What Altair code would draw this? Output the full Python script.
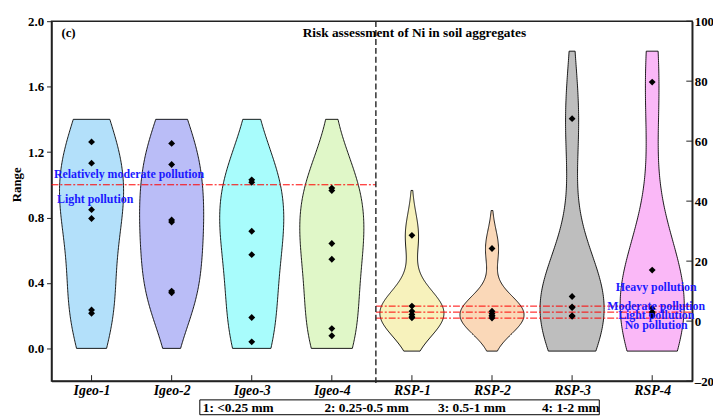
import json
import altair as alt
import numpy as np
import pandas as pd

# ---------------- data ----------------
categories = ["Igeo-1", "Igeo-2", "Igeo-3", "Igeo-4", "RSP-1", "RSP-2", "RSP-3", "RSP-4"]

igeo_1 = [1.262, 1.132, 0.848, 0.794, 0.235, 0.215]
igeo_2 = [1.253, 1.124, 0.785, 0.772, 0.350, 0.340]
igeo_3 = [1.030, 1.015, 0.716, 0.573, 0.189, 0.040]
igeo_4 = [0.980, 0.965, 0.641, 0.545, 0.121, 0.077]

rsp_1 = [28.6, 5.0, 3.3, 2.2, 1.4, 1.1]
rsp_2 = [24.2, 3.3, 2.5, 1.9, 1.7, 1.0]
rsp_3 = [67.5, 8.2, 4.7, 4.5, 1.8, 1.6]
rsp_4 = [79.7, 17.0, 4.2, 3.0, 2.4, 1.8]

igeo_threshold = [1.0]
rsp_thresholds = [1, 3, 5]

left_ticks = [0.0, 0.4, 0.8, 1.2, 1.6, 2.0]
right_ticks = [-20, 0, 20, 40, 60, 80, 100]

igeo_labels = ["Relatively moderate pollution", "Light pollution"]
igeo_label_y = [1.067, 0.914]
igeo_label_x = [0.03, 0.07]
rsp_labels = ["Heavy pollution", "Moderate pollution", "Light pollution", "No pollution"]
rsp_label_y = [11.3, 4.9, 2.0, -1.2]
size_classes = ["1: <0.25 mm", "2: 0.25-0.5 mm", "3: 0.5-1 mm", "4: 1-2 mm"]

title_text = "Risk assessment of Ni in soil aggregates"
panel_text = "(c)"

colors = ["#b3e0fa", "#babdf7", "#a8fcfc", "#e0f7c8",
          "#f7f2bc", "#fad8b8", "#bebebe", "#fab8f7"]

FONT = "Liberation Serif"
W, H = 648, 364
divider_x = 4.05

# ---------------- violin densities (Scott KDE, cut=2, clipped) ----------------
def violin(name, vals, lo, hi, steps=160):
    v = np.asarray(vals, float)
    h = v.std(ddof=1) * len(v) ** (-0.2)
    a = max(v.min() - 2 * h, lo)
    b = min(v.max() + 2 * h, hi)
    grid = np.linspace(a, b, steps)
    d = np.exp(-0.5 * ((grid[:, None] - v[None, :]) / h) ** 2).sum(axis=1)
    w = 0.4 * d / d.max()
    c = categories.index(name) + 0.5
    return pd.DataFrame({"cat": name, "y": grid, "xa": c - w, "xb": c + w})

igeo_sets = {"Igeo-1": igeo_1, "Igeo-2": igeo_2, "Igeo-3": igeo_3, "Igeo-4": igeo_4}
rsp_sets = {"RSP-1": rsp_1, "RSP-2": rsp_2, "RSP-3": rsp_3, "RSP-4": rsp_4}

igeo_vio = pd.concat([violin(k, v, 0.0, 1.4) for k, v in igeo_sets.items()], ignore_index=True)
rsp_vio = pd.concat([violin(k, v, -10.0, 90.0) for k, v in rsp_sets.items()], ignore_index=True)

def points(sets):
    rows = []
    for k, vals in sets.items():
        for val in vals:
            rows.append({"cat": k, "xc": categories.index(k) + 0.5, "value": val})
    return pd.DataFrame(rows)

igeo_pts = points(igeo_sets)
rsp_pts = points(rsp_sets)
centers = pd.DataFrame({"cat": categories, "xc": [i + 0.5 for i in range(len(categories))]})

# ---------------- scales / axes ----------------
x_scale = alt.Scale(domain=[0, 8], nice=False, zero=False)
x_axis = alt.Axis(values=[i + 0.5 for i in range(8)],
                  labelExpr=json.dumps(categories) + "[floor(datum.value)]",
                  tickSize=0, grid=False, title=None, labelFontSize=14,
                  labelFontStyle="italic", labelFontWeight="bold", labelPadding=3)
yl_scale = alt.Scale(domain=[-0.2, 2.0], nice=False, zero=False)
yl_axis = alt.Axis(values=left_ticks, format=".1f", title="Range", tickSize=5,
                   labelPadding=3, titleFontSize=13, titleFontWeight="bold",
                   titlePadding=4, titleY=165, grid=False)
yr_scale = alt.Scale(domain=[-20, 100], nice=False, zero=False)
yr_axis = alt.Axis(orient="right", values=right_ticks, tickSize=0,
                   labelExpr="datum.value < 0 ? '\u2013' + abs(datum.value) : '' + datum.value",
                   labelPadding=2, title=None, grid=False)
color_scale = alt.Scale(domain=categories, range=colors)

def X(field):
    return alt.X(field, scale=x_scale, axis=x_axis)

# ---------------- left (Igeo) layers ----------------
l_vio = alt.Chart(igeo_vio).mark_area(orient="horizontal", stroke="black",
                                      strokeWidth=0.9, opacity=1).encode(
    y=alt.Y("y:Q", scale=yl_scale, axis=yl_axis),
    x=alt.X("xa:Q", scale=x_scale, axis=x_axis, stack=None),
    x2="xb:Q",
    fill=alt.Fill("cat:N", scale=color_scale, legend=None),
)
l_rule = alt.Chart(pd.DataFrame({"t": igeo_threshold})).mark_rule(
    color="red", strokeWidth=1, strokeDash=[7, 2, 2, 2]).encode(
    y=alt.Y("t:Q", scale=yl_scale, axis=yl_axis),
    x=alt.X(datum=0, scale=x_scale, axis=x_axis),
    x2=alt.datum(divider_x),
)
l_pts = alt.Chart(igeo_pts).mark_point(shape="diamond", filled=True, size=48,
                                       color="black", opacity=1).encode(
    x=X("xc:Q"), y=alt.Y("value:Q", scale=yl_scale, axis=yl_axis))
l_text = alt.Chart(pd.DataFrame({"label": igeo_labels, "y": igeo_label_y,
                                 "x": igeo_label_x})).mark_text(
    align="left", baseline="middle", font=FONT, fontSize=12, fontWeight="bold",
    color="#1a1aff").encode(
    x=alt.X("x:Q", scale=x_scale, axis=x_axis),
    y=alt.Y("y:Q", scale=yl_scale, axis=yl_axis), text="label:N")
left = alt.layer(l_vio, l_rule, l_pts, l_text)

# ---------------- right (RSP) layers ----------------
r_vio = alt.Chart(rsp_vio).mark_area(orient="horizontal", stroke="black",
                                     strokeWidth=0.9, opacity=1).encode(
    y=alt.Y("y:Q", scale=yr_scale, axis=yr_axis),
    x=alt.X("xa:Q", scale=x_scale, axis=x_axis, stack=None),
    x2="xb:Q",
    fill=alt.Fill("cat:N", scale=color_scale, legend=None),
)
r_rule = alt.Chart(pd.DataFrame({"t": rsp_thresholds})).mark_rule(
    color="red", strokeWidth=1, strokeDash=[7, 2, 2, 2]).encode(
    y=alt.Y("t:Q", scale=yr_scale, axis=yr_axis),
    x=alt.X(datum=divider_x, scale=x_scale, axis=x_axis),
    x2=alt.datum(8),
)
r_pts = alt.Chart(rsp_pts).mark_point(shape="diamond", filled=True, size=48,
                                      color="black", opacity=1).encode(
    x=X("xc:Q"), y=alt.Y("value:Q", scale=yr_scale, axis=yr_axis))
r_text = alt.Chart(pd.DataFrame({"label": rsp_labels, "y": rsp_label_y})).mark_text(
    align="center", baseline="middle", font=FONT, fontSize=12, fontWeight="bold",
    color="#1a1aff").encode(
    x=alt.X(datum=7.55, scale=x_scale, axis=x_axis),
    y=alt.Y("y:Q", scale=yr_scale, axis=yr_axis), text="label:N")
r_ticks = alt.Chart(pd.DataFrame({"t": right_ticks})).mark_rule(
    color="#222", strokeWidth=1).encode(
    y=alt.Y("t:Q", scale=yr_scale, axis=yr_axis),
    x=alt.value(W - 6), x2=alt.value(W))
right = alt.layer(r_vio, r_rule, r_pts, r_text, r_ticks)

# ---------------- shared annotation layers ----------------
divider = alt.Chart(pd.DataFrame({"d": [divider_x]})).mark_rule(
    color="#222", strokeWidth=1.4, strokeDash=[6, 3]).encode(
    x=alt.X("d:Q", scale=x_scale, axis=x_axis), y=alt.value(0), y2=alt.value(H + 3))
bottom_ticks = alt.Chart(centers).mark_rule(color="#222", strokeWidth=1).encode(
    x=X("xc:Q"), y=alt.value(H), y2=alt.value(H - 6))
title = alt.Chart(pd.DataFrame({"label": [title_text]})).mark_text(
    align="center", baseline="middle", font=FONT, fontSize=13.5, fontWeight="bold",
    color="black").encode(x=alt.value(367), y=alt.value(12), text="label:N")
panel = alt.Chart(pd.DataFrame({"label": [panel_text]})).mark_text(
    align="left", baseline="middle", font=FONT, fontSize=13, fontWeight="bold",
    color="black").encode(x=alt.value(10), y=alt.value(12), text="label:N")
box = alt.Chart(pd.DataFrame({"b": [1]})).mark_rect(
    fillOpacity=0, stroke="black", strokeWidth=1).encode(
    x=alt.value(150), x2=alt.value(554), y=alt.value(383), y2=alt.value(398))
legend_x = [153, 276, 391, 496]
legend_layers = [
    alt.Chart(pd.DataFrame({"label": [s]})).mark_text(
        align="left", baseline="middle", font=FONT, fontSize=13.5, fontWeight="bold",
        color="black").encode(x=alt.value(px), y=alt.value(391), text="label:N")
    for s, px in zip(size_classes, legend_x)
]

chart = alt.layer(left, right, divider, bottom_ticks, title, panel, box, *legend_layers).resolve_scale(
    y="independent"
).properties(
    width=W, height=H, autosize="none",
    padding={"left": 44, "top": 11, "right": 21, "bottom": 36},
).configure_axis(
    labelFont=FONT, titleFont=FONT, labelFontSize=13, labelFontWeight="bold",
    labelColor="black", titleColor="black", domainColor="#222", tickColor="#222",
    domainWidth=1.5, grid=False,
).configure_view(stroke="#222", strokeWidth=1.5)

chart.save("out.html", embed_options={"renderer": "svg", "actions": False})
